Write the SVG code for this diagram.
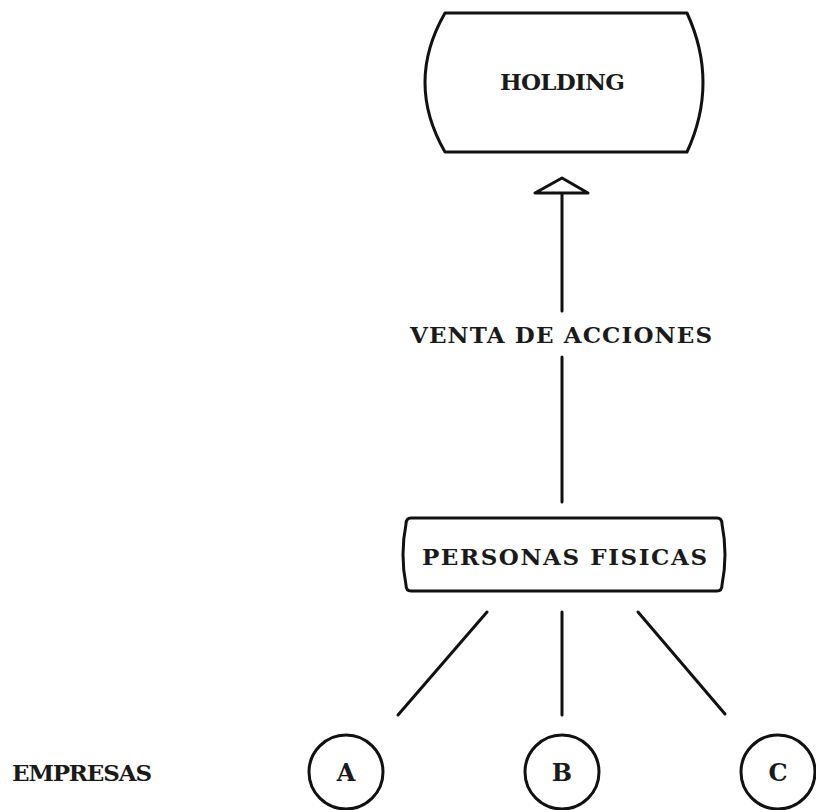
<svg xmlns="http://www.w3.org/2000/svg" width="816" height="810" viewBox="0 0 816 810">
  <style>
    .shape { fill: #ffffff; stroke: #111111; stroke-width: 3; stroke-linejoin: round; }
    .wire { stroke: #111111; stroke-width: 3; stroke-linecap: round; fill: none; }
    .tw { font-family: "DejaVu Serif", "Liberation Serif", serif; font-weight: bold; fill: #1a1a1a; }
    .big { font-size: 23px; }
    .small { font-size: 24px; }
  </style>
  <rect width="816" height="810" fill="#ffffff"/>

  <!-- connectors -->
  <g id="connectors">
    <line class="wire" x1="562" y1="193" x2="562" y2="311"/>
    <line class="wire" x1="562" y1="357" x2="562" y2="502"/>
    <polygon class="shape" points="562,178 535,193 588,193" stroke-width="3.5"/>
    <line class="wire" x1="487" y1="612" x2="398" y2="715"/>
    <line class="wire" x1="562" y1="612" x2="562" y2="715"/>
    <line class="wire" x1="638" y1="612" x2="725" y2="714"/>
  </g>

  <text class="tw big" x="410" y="343" textLength="302" lengthAdjust="spacing">VENTA DE ACCIONES</text>

  <g id="holding">
    <path class="shape" d="M445,13 L687,13 Q719,82.5 687,152 L445,152 Q405,82.5 445,13 Z"/>
    <text class="tw big" x="500" y="90" textLength="125" lengthAdjust="spacing">HOLDING</text>
  </g>

  <g id="personas-fisicas">
    <path class="shape" d="M411,518 L717,518 Q722,518 722,524 Q728,554.5 722,585 Q722,591 717,591 L411,591 Q406,591 406,585 Q400,554.5 406,524 Q406,518 411,518 Z"/>
    <text class="tw big" x="422" y="565" textLength="285" lengthAdjust="spacing">PERSONAS FISICAS</text>
  </g>

  <g id="empresas-label">
    <text class="tw big" x="12" y="781" textLength="140" lengthAdjust="spacing">EMPRESAS</text>
  </g>

  <g id="empresa-a">
    <circle class="shape" cx="346" cy="772" r="37"/>
    <text class="tw small" x="346" y="781" text-anchor="middle">A</text>
  </g>
  <g id="empresa-b">
    <circle class="shape" cx="562" cy="772" r="37"/>
    <text class="tw small" x="562" y="781" text-anchor="middle">B</text>
  </g>
  <g id="empresa-c">
    <circle class="shape" cx="778" cy="772" r="37"/>
    <text class="tw small" x="778" y="781" text-anchor="middle">C</text>
  </g>
</svg>
